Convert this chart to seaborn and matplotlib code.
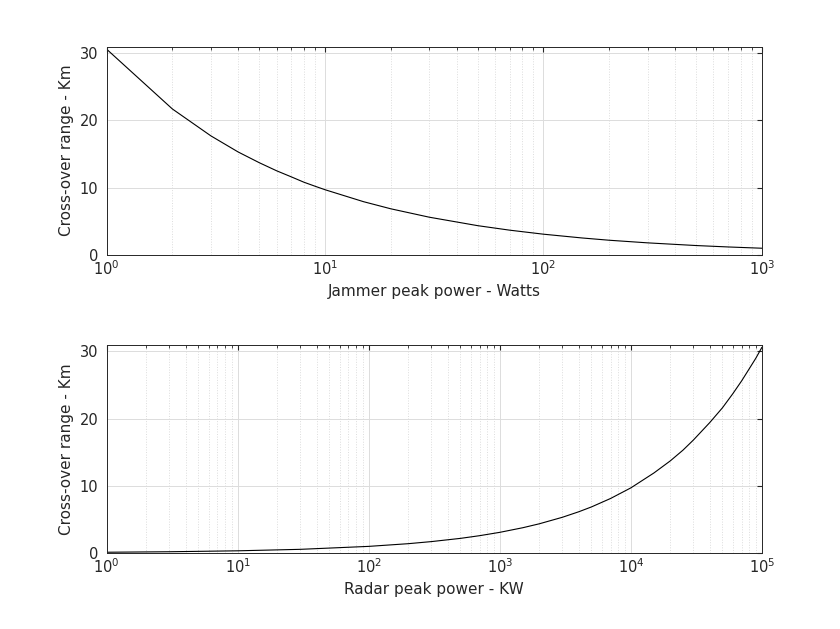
import matplotlib
matplotlib.use("Agg")
import matplotlib.pyplot as plt
import seaborn as sns
import pandas as pd
from matplotlib.ticker import LogLocator, NullFormatter

jammer_power = [1, 2, 3, 4, 5, 6, 7, 8, 9, 10, 15, 20, 30, 50, 70, 100, 150, 200, 300, 500, 700, 1000]
range_top = [30.6, 21.7, 17.7, 15.3, 13.7, 12.5, 11.6, 10.8, 10.2, 9.68, 7.9, 6.84, 5.59, 4.33, 3.66, 3.06, 2.5, 2.16, 1.77, 1.37, 1.16, 0.97]

radar_power = [1, 3, 10, 30, 100, 200, 300, 500, 700, 1000, 1500, 2000, 3000, 4000, 5000, 7000, 10000, 15000, 20000, 25000, 30000, 40000, 50000, 60000, 70000, 80000, 90000, 100000]
range_bot = [0.097, 0.17, 0.31, 0.53, 0.97, 1.37, 1.68, 2.16, 2.56, 3.06, 3.75, 4.33, 5.3, 6.12, 6.84, 8.1, 9.68, 11.9, 13.7, 15.3, 16.8, 19.4, 21.6, 23.7, 25.6, 27.4, 29.0, 30.6]

sns.set_style("white")
plt.rcParams['font.family'] = ['DejaVu Sans']
fig = plt.figure(figsize=(8.4, 6.29), dpi=100)
ax1 = fig.add_axes([0.127, 0.595, 0.780, 0.331])
ax2 = fig.add_axes([0.127, 0.121, 0.780, 0.331])

for ax, x, y, xl, xlim in [
    (ax1, jammer_power, range_top, "Jammer peak power - Watts", (1, 1000)),
    (ax2, radar_power, range_bot, "Radar peak power - KW", (1, 1e5)),
]:
    sns.lineplot(data=pd.DataFrame({"x": x, "y": y}), x="x", y="y", ax=ax, color="black", linewidth=0.8)
    ax.set_xscale("log")
    ax.set_xlim(*xlim)
    ax.set_ylim(0, 31)
    ax.set_yticks([0, 10, 20, 30])
    ax.xaxis.set_minor_locator(LogLocator(base=10, subs=range(2, 10), numticks=20))
    ax.xaxis.set_minor_formatter(NullFormatter())
    ax.grid(True, which="major", color="#dcdcdc", linewidth=0.7)
    ax.grid(True, which="minor", axis="x", color="#dcdcdc", linestyle=":", linewidth=0.7)
    ax.tick_params(direction="in", which="both", labelsize=10.5, top=True, right=True, colors="#262626")
    ax.tick_params(axis="y", pad=6)
    ax.tick_params(which="minor", length=2)
    for s in ax.spines.values():
        s.set_color("#262626")
        s.set_linewidth(0.7)
    ax.set_xlabel(xl, fontsize=11)
    ax.set_ylabel("Cross-over range - Km", fontsize=11)

fig.savefig("out.png", dpi=100)
